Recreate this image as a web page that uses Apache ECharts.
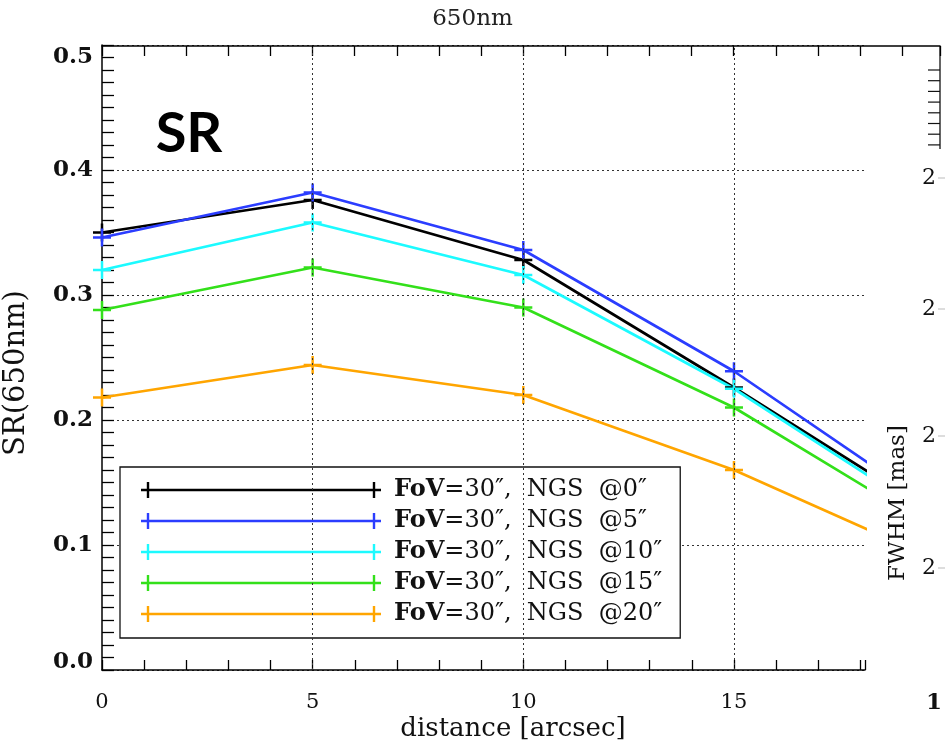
<!DOCTYPE html>
<html><head><meta charset="utf-8">
<script src="https://cdn.jsdelivr.net/npm/echarts@6/dist/echarts.min.js"></script>
<style>html,body{margin:0;padding:0;background:#fff}#c{width:945px;height:755px}</style>
</head><body><div id="c"></div>
<script>
// ---- data ----
const distances = [0, 5, 10, 15, 20];
const srNgs0  = [0.350, 0.376, 0.328, 0.226, 0.120];
const srNgs5  = [0.346, 0.382, 0.336, 0.239, 0.124];
const srNgs10 = [0.320, 0.358, 0.316, 0.225, 0.116];
const srNgs15 = [0.288, 0.322, 0.290, 0.210, 0.108];
const srNgs20 = [0.218, 0.244, 0.220, 0.160, 0.085];
const seriesNames = ['FoV=30″,  NGS  @0″', 'FoV=30″,  NGS  @5″', 'FoV=30″,  NGS  @10″', 'FoV=30″,  NGS  @15″', 'FoV=30″,  NGS  @20″'];
const seriesColors = ['#000000', '#2b3dff', '#1cfaff', '#33e01a', '#ffa500'];
const xTickLabels = ['0', '5', '10', '15'];
const yTickLabels = ['0.0', '0.1', '0.2', '0.3', '0.4', '0.5'];
const gridXValues = [5, 10, 15];
const rightPanelLabels = ['2', '2', '2', '2'];
const rightPanelBottomLabel = '1';

const seriesValues = [srNgs0, srNgs5, srNgs10, srNgs15, srNgs20];
const SERIF = "'DejaVu Serif', 'Liberation Serif', serif";
const crossPath = 'path://M-1.25,-9H1.25V-1.25H9V1.25H1.25V9H-1.25V1.25H-9V-1.25H-1.25Z';

const series = seriesValues.map((vals, i) => {
  const s = {
    name: seriesNames[i], type: 'line', xAxisIndex: 0, yAxisIndex: 0,
    data: distances.map((d, k) => [d, vals[k]]),
    symbol: crossPath, symbolSize: 18, showSymbol: true, showAllSymbol: true,
    clip: true, animation: false,
    lineStyle: {color: seriesColors[i], width: 2.7},
    itemStyle: {color: seriesColors[i], borderWidth: 0},
    emphasis: {disabled: true}
  };
  if (i === 0) {
    s.markLine = {
      silent: true, symbol: ['none', 'none'], animation: false,
      label: {show: false},
      lineStyle: {type: [2, 3], color: '#333', width: 1},
      data: gridXValues.map(v => ({xAxis: v}))
    };
  }
  return s;
});
// hidden series to own grid 1 axes
series.push({type: 'line', xAxisIndex: 1, yAxisIndex: 1, data: [], silent: true});

const baseLabel = {fontFamily: SERIF, fontSize: 23, fontWeight: 'bold', color: '#111'};
const rightGraphics = [];
// right panel axis fragment
rightGraphics.push({type: 'line', shape: {x1: 940, y1: 46, x2: 940, y2: 149}, style: {stroke: '#111', lineWidth: 1.3}});
for (let k = 0; k < 8; k++) {
  const y = 70 + k * 10.7;
  rightGraphics.push({type: 'line', shape: {x1: 928, y1: y, x2: 940, y2: y}, style: {stroke: '#111', lineWidth: 1.2}});
}
const rightLabelY = [178, 309, 436, 568];
rightPanelLabels.forEach((t, i) => {
  rightGraphics.push({type: 'text', x: 929, y: rightLabelY[i], style: {text: t, font: '22px ' + SERIF, fill: '#111', align: 'center', verticalAlign: 'middle', textAlign: 'center', textVerticalAlign: 'middle'}});
  rightGraphics.push({type: 'line', shape: {x1: 938, y1: rightLabelY[i], x2: 945, y2: rightLabelY[i]}, style: {stroke: '#bbb', lineWidth: 1}});
});
rightGraphics.push({type: 'text', x: 934, y: 703, style: {text: rightPanelBottomLabel, font: 'bold 23px ' + SERIF, fill: '#111', align: 'center', verticalAlign: 'middle', textAlign: 'center', textVerticalAlign: 'middle'}});
rightGraphics.push({type: 'text', x: 898, y: 503, rotation: Math.PI / 2, style: {text: 'FWHM [mas]', font: '23px ' + SERIF, fill: '#111', align: 'center', verticalAlign: 'middle', textAlign: 'center', textVerticalAlign: 'middle'}});

const legendFont = 24;
const option = {
  animation: false,
  backgroundColor: '#fff',
  title: {text: '650nm', left: 'center', top: 3, textStyle: {fontFamily: SERIF, fontSize: 23, fontWeight: 'normal', color: '#222'}},
  grid: [
    {left: 102, right: 80, top: 45, bottom: 85, outerBoundsMode: 'none', containLabel: false},
    {left: 102, width: 838, top: 46, height: 10, outerBoundsMode: 'none', containLabel: false}
  ],
  xAxis: [
    {
      gridIndex: 0, type: 'value', min: 0, max: 18.11, interval: 1,
      axisLine: {show: true, onZero: false, lineStyle: {color: '#000', width: 1.5}},
      axisTick: {show: true, inside: true, length: 10, lineStyle: {color: '#000', width: 1.3}},
      splitLine: {show: false},
      axisLabel: {
        show: true, margin: 22, fontFamily: SERIF, fontSize: 21, color: '#111',
        formatter: v => { const t = String(Math.round(v)); return (Math.abs(v - Math.round(v)) < 1e-6 && xTickLabels.includes(t)) ? t : ''; }
      }
    },
    {
      gridIndex: 1, type: 'value', position: 'top', min: 0, max: 19.9, interval: 1,
      axisLine: {show: true, onZero: false, lineStyle: {color: '#000', width: 1.5}},
      axisTick: {show: true, inside: true, length: 10, lineStyle: {color: '#000', width: 1.3}},
      splitLine: {show: false}, axisLabel: {show: false}
    }
  ],
  yAxis: [
    {
      gridIndex: 0, type: 'value', min: 0, max: 0.5, interval: 0.1,
      axisLine: {show: true, lineStyle: {color: '#000', width: 1.5}},
      axisTick: {show: true, inside: true, length: 12, lineStyle: {color: '#000', width: 1.3}},
      minorTick: {show: true, splitNumber: 10, length: 12, lineStyle: {color: '#000', width: 1.3}},
      splitLine: {show: true, lineStyle: {type: [2, 3], color: '#333', width: 1}},
      axisLabel: {
        margin: 9, ...baseLabel,
        formatter: v => {
          const i = Math.round(v * 10);
          const t = yTickLabels[i];
          if (i === 5) return '{lo|' + t + '}';
          if (i === 0) return '{hi|' + t + '}';
          return t;
        },
        rich: {
          lo: {...baseLabel, padding: [24, 0, 0, 0]},
          hi: {...baseLabel, padding: [0, 0, 16, 0]}
        }
      }
    },
    {gridIndex: 1, type: 'value', show: false}
  ],
  legend: {
    orient: 'vertical', left: 120, top: 467,
    padding: [11, 18, 12, 21], itemGap: 7, itemWidth: 240, itemHeight: 16,
    icon: 'path://M0,6.8H240V9.2H0Z M5.8,0H8.2V16H5.8Z M231.8,0H234.2V16H231.8Z',
    itemStyle: {borderWidth: 0},
    backgroundColor: '#fff', borderColor: '#111', borderWidth: 1.3, borderRadius: 0,
    selectedMode: false,
    data: seriesNames,
    textStyle: {
      fontFamily: SERIF, fontSize: legendFont, lineHeight: 24, color: '#111', padding: [0, 0, 0, 8],
      rich: {
        b: {fontFamily: SERIF, fontSize: legendFont, lineHeight: 24, fontWeight: 'bold', color: '#111'},
        n: {fontFamily: SERIF, fontSize: legendFont, lineHeight: 24, color: '#111'}
      }
    },
    formatter: name => { const i = name.indexOf('='); return '{b|' + name.slice(0, i) + '}{n|' + name.slice(i) + '}'; }
  },
  graphic: [
    {type: 'text', x: 189, y: 134, style: {text: 'SR', font: "bold 56px Lato, 'Open Sans', sans-serif", fill: '#000', align: 'center', verticalAlign: 'middle', textAlign: 'center', textVerticalAlign: 'middle'}},
    {type: 'text', x: 16, y: 373, rotation: Math.PI / 2, style: {text: 'SR(650nm)', font: '29px ' + SERIF, fill: '#111', align: 'center', verticalAlign: 'middle', textAlign: 'center', textVerticalAlign: 'middle'}},
    {type: 'text', x: 513, y: 729, style: {text: 'distance [arcsec]', font: '26px ' + SERIF, fill: '#111', align: 'center', verticalAlign: 'middle', textAlign: 'center', textVerticalAlign: 'middle'}},
    ...rightGraphics
  ],
  series: series
};
const chart = echarts.init(document.getElementById('c'), null, {renderer: 'canvas'});
chart.setOption(option);
</script>
</body></html>
